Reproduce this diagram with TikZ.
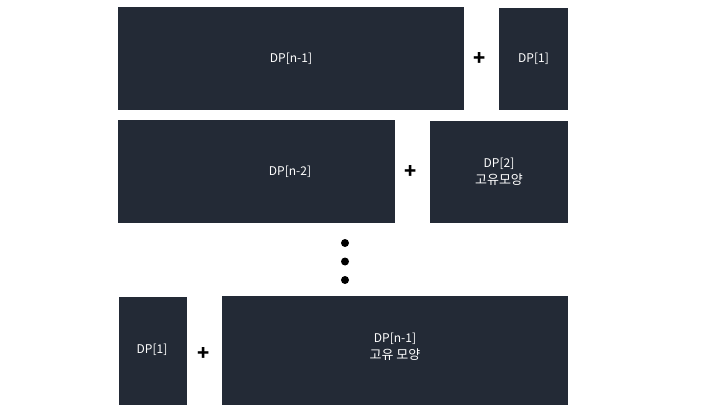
\documentclass[tikz,border=0pt]{standalone}
\usepackage{fontspec}
\setmainfont{Noto Sans CJK KR}
\definecolor{Bfill}{RGB}{35,42,54}
\newcommand{\kor}[1]{{\fontsize{13}{17}\selectfont #1}}

\begin{document}
\begin{tikzpicture}[x=1pt,y=1pt,line cap=round,line join=round]
\path[use as bounding box] (0,0) rectangle (720,405);
% row 1
\node[rectangle,fill=Bfill,minimum width=346pt,minimum height=103pt,inner sep=0pt] (big1) at (291.0,346.5) {};
\node[rectangle,fill=Bfill,minimum width=69pt,minimum height=102pt,inner sep=0pt] (small1) at (533.5,346.0) {};
\node[text=white,font=\fontsize{12}{17}\selectfont] (tbig1) at (291.0,346.0) {DP[n-1]};
\node[text=white,font=\fontsize{12}{17}\selectfont] (tsmall1) at (533.5,346.0) {DP[1]};
\node[font=\bfseries\fontsize{20}{20}\selectfont] (plus1) at (480.0,345.5) {+};
% row 2
\node[rectangle,fill=Bfill,minimum width=277pt,minimum height=103pt,inner sep=0pt] (big2) at (256.5,233.5) {};
\node[rectangle,fill=Bfill,minimum width=138pt,minimum height=102pt,inner sep=0pt] (small2) at (499.0,233.0) {};
\node[text=white,font=\fontsize{12}{17}\selectfont] (tbig2) at (290.0,233.0) {DP[n-2]};
\node[text=white,font=\fontsize{12}{17}\selectfont,align=center] (tsmall2) at (499.0,233.5) {DP[2]\\\kor{고유모양}};
\node[font=\bfseries\fontsize{20}{20}\selectfont] (plus2) at (411.0,233.5) {+};
% dots
\fill (345.0,162.0) circle[radius=4pt];
\fill (345.0,143.5) circle[radius=4pt];
\fill (345.0,125.0) circle[radius=4pt];
% row 3
\node[rectangle,fill=Bfill,minimum width=68pt,minimum height=108pt,inner sep=0pt] (small3) at (153.0,54.0) {};
\node[rectangle,fill=Bfill,minimum width=346pt,minimum height=109pt,inner sep=0pt] (big3) at (395.0,54.5) {};
\node[text=white,font=\fontsize{12}{17}\selectfont] (tsmall3) at (152.0,55.0) {DP[1]};
\node[text=white,font=\fontsize{12}{17}\selectfont,align=center] (tbig3) at (395.0,58.5) {DP[n-1]\\\kor{고유 모양}};
\node[font=\bfseries\fontsize{20}{20}\selectfont] (plus3) at (204.0,51.5) {+};
\end{tikzpicture}
\end{document}
